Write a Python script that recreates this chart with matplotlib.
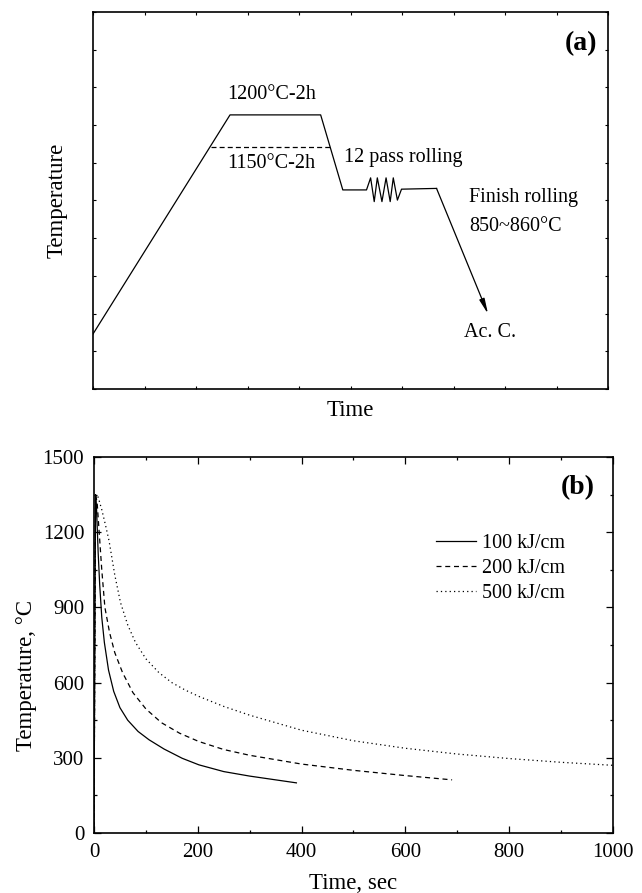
import matplotlib
matplotlib.use("Agg")
import matplotlib.pyplot as plt
from matplotlib.ticker import MultipleLocator

plt.rcParams['font.family'] = ['Liberation Serif', 'DejaVu Serif']
plt.rcParams['mathtext.fontset'] = 'stix'

# ---------------- data: panel (a) schedule (arbitrary units) ----------------
sched_time = [0.0, 2.66, 4.42, 4.85, 5.31, 5.39, 5.46, 5.52, 5.61, 5.69, 5.77,
              5.83, 5.91, 5.99, 6.67]
sched_temp = [1.46, 7.27, 7.27, 5.28, 5.28, 5.60, 4.97, 5.60, 4.97, 5.60, 4.97,
              5.60, 5.01, 5.30, 5.32]
alt_soak_time = [2.30, 4.60]
alt_soak_temp = [6.43, 6.43]
cool_end = (7.67, 1.99)

# ---------------- data: panel (b) thermal cycles ----------------
t_100 = [0, 3, 5, 8, 11, 15, 20, 28, 38, 50, 65, 85, 106, 135, 170, 202,
         250, 300, 350, 390]
T_100 = [25, 1350, 1290, 1120, 990, 860, 760, 650, 565, 500, 450, 405, 372,
         335, 298, 272, 245, 227, 212, 200]

t_200 = [0, 3, 6, 10, 15, 21, 30, 40, 55, 75, 100, 130, 165, 202, 250, 300,
         400, 500, 600, 690]
T_200 = [25, 1350, 1320, 1200, 1050, 900, 800, 720, 640, 560, 495, 440, 398,
         365, 333, 310, 275, 250, 229, 212]

t_500 = [0, 3, 8, 15, 22, 29, 40, 51, 65, 80, 100, 125, 150, 176, 202, 250,
         300, 400, 500, 600, 700, 800, 900, 1000]
T_500 = [0, 1350, 1340, 1290, 1230, 1166, 1030, 920, 830, 760, 695, 640, 600,
         570, 545, 505, 470, 410, 368, 338, 315, 297, 282, 270]

labels_b = ['100 kJ/cm', '200 kJ/cm', '500 kJ/cm']

fig = plt.figure(figsize=(6.42, 8.93), dpi=100)

# ---------------- panel (a) ----------------
axa = fig.add_axes([0.1449, 0.5644, 0.8022, 0.4222])
axa.plot(sched_time, sched_temp, color='black', lw=0.9)
axa.plot(alt_soak_time, alt_soak_temp, color='black', lw=0.9, ls=(0, (4, 2.5)))
axa.annotate('', xy=cool_end, xytext=(sched_time[-1], sched_temp[-1]),
             arrowprops=dict(arrowstyle='-|>,head_length=0.9,head_width=0.16',
                             color='black', lw=0.9, shrinkA=0, shrinkB=0))
axa.set_xlim(0, 10)
axa.set_ylim(0, 10)
axa.xaxis.set_major_locator(MultipleLocator(1))
axa.yaxis.set_major_locator(MultipleLocator(1))
axa.tick_params(which='both', direction='in', top=True, right=True,
                labelbottom=False, labelleft=False, length=2, width=0.8)
for s in axa.spines.values():
    s.set_linewidth(1.2)

fs_ann = 14.5
axa.text(3.47, 7.8, '1200°C-2h', ha='center', va='center', fontsize=fs_ann)
axa.text(3.46, 5.97, '1150°C-2h', ha='center', va='center', fontsize=fs_ann)
axa.text(4.87, 6.15, '12 pass rolling', ha='left', va='center', fontsize=fs_ann)
axa.text(7.30, 5.09, 'Finish rolling', ha='left', va='center', fontsize=fs_ann)
axa.text(7.30, 4.30, '850~860°C', ha='left', va='center', fontsize=fs_ann)
axa.text(7.20, 1.50, 'Ac. C.', ha='left', va='center', fontsize=fs_ann)
axa.text(0.98, 0.915, '(a)', transform=axa.transAxes, ha='right', va='center',
         fontsize=20, fontweight='bold')
axa.set_ylabel('Temperature', fontsize=16.5, labelpad=18)
axa.set_xlabel('Time', fontsize=16.5, labelpad=8)

# ---------------- panel (b) ----------------
axb = fig.add_axes([0.1464, 0.0672, 0.8084, 0.4210])
axb.plot(t_100, T_100, color='black', lw=0.9, ls='-', label=labels_b[0])
axb.plot(t_200, T_200, color='black', lw=0.9, ls=(0, (4, 3)), label=labels_b[1])
axb.plot(t_500, T_500, color='black', lw=0.9, ls=(0, (1, 2.5)), label=labels_b[2])
axb.set_xlim(0, 1000)
axb.set_ylim(0, 1500)
axb.xaxis.set_major_locator(MultipleLocator(200))
axb.xaxis.set_minor_locator(MultipleLocator(100))
axb.yaxis.set_major_locator(MultipleLocator(300))
axb.yaxis.set_minor_locator(MultipleLocator(150))
axb.tick_params(which='both', direction='in', top=True, right=True,
                labelsize=15, width=0.9, pad=7)
axb.tick_params(which='major', length=5)
axb.tick_params(which='minor', length=2.5)
for s in axb.spines.values():
    s.set_linewidth(1.2)
axb.set_xlabel('Time, sec', fontsize=16.5, labelpad=8)
axb.set_ylabel('Temperature, °C', fontsize=16.5)
axb.yaxis.set_label_coords(-0.11, 0.42)
axb.text(0.965, 0.92, '(b)', transform=axb.transAxes, ha='right', va='center',
         fontsize=20, fontweight='bold')
leg = axb.legend(loc='upper left', bbox_to_anchor=(0.659, 0.795), frameon=False,
                 fontsize=14.5, handlelength=2.0, handletextpad=0.3,
                 labelspacing=0.3, borderpad=0, borderaxespad=0)

fig.savefig('out.png', dpi=100)
